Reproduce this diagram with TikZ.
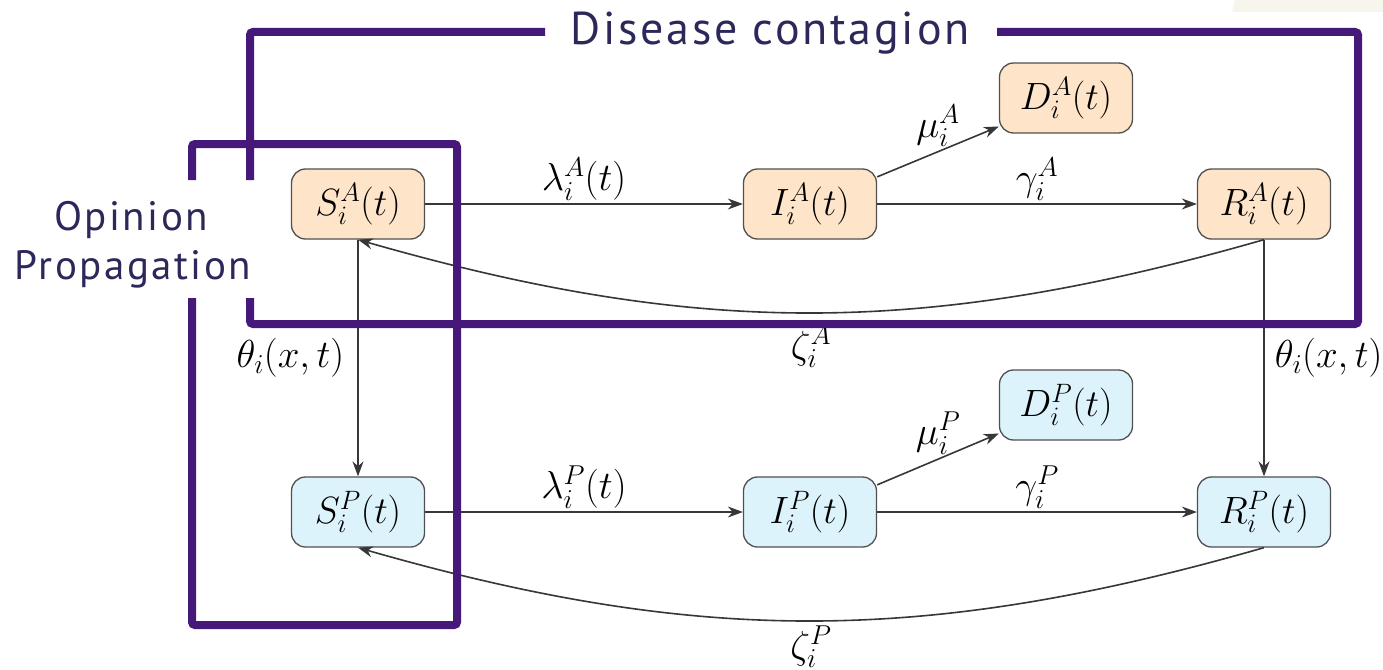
\RequirePackage{fix-cm}
\documentclass[tikz,border=0pt]{standalone}
\usepackage{fontspec}
\newfontfamily\framefont[LetterSpace=6]{PT Sans}
\usetikzlibrary{arrows.meta,calc}
\definecolor{frameviolet}{RGB}{70,24,122}
\definecolor{labelink}{RGB}{44,40,90}
\definecolor{nodeA}{RGB}{254,228,200}
\definecolor{nodeP}{RGB}{221,243,252}
\definecolor{edgegray}{RGB}{55,55,55}
\definecolor{boxgray}{RGB}{80,80,80}
\definecolor{cream}{RGB}{248,245,236}
\begin{document}
\begin{tikzpicture}[x=1pt,y=-1pt,
  state/.style={draw=boxgray, line width=1.3pt, rounded corners=14pt,
    minimum width=133pt, minimum height=70pt, inner sep=0pt,
    font=\fontsize{38}{44}\selectfont},
  stA/.style={state, fill=nodeA},
  stP/.style={state, fill=nodeP},
  flow/.style={draw=edgegray, line width=1.6pt, -{Stealth[length=15pt,width=11pt]}},
  lbl/.style={font=\fontsize{39}{46}\selectfont, inner sep=3pt},
  frame/.style={draw=frameviolet, line width=8pt, rounded corners=3pt},
  ftext/.style={text=labelink, inner sep=0pt, anchor=base}]
\useasboundingbox (0,0) rectangle (1383,669);
\fill[cream] (1235,0) -- (1383,0) -- (1383,12) -- (1232,12) -- cycle;

% states
\node[stA] (SA) at (358,204) {$S_i^A(t)$};
\node[stA] (IA) at (810,204) {$I_i^A(t)$};
\node[stA] (RA) at (1264,204) {$R_i^A(t)$};
\node[stA] (DA) at (1066,98) {$D_i^A(t)$};
\node[stP] (SP) at (358,512) {$S_i^P(t)$};
\node[stP] (IP) at (810,512) {$I_i^P(t)$};
\node[stP] (RP) at (1264,512) {$R_i^P(t)$};
\node[stP] (DP) at (1066,405) {$D_i^P(t)$};

% transitions A
\draw[flow] (SA.east) -- node[lbl, above] (lA) {$\lambda_i^A(t)$} (IA.west);
\draw[flow] (IA.east) -- node[lbl, above] (gA) {$\gamma_i^A$} (RA.west);
\draw[flow] (IA.22) -- node[lbl, above=1pt] (mA) {$\mu_i^A$} (DA.203);
\draw[flow] (RA.south) to[bend left=16] node[lbl, below=9pt] (zA) {$\zeta_i^A$} (SA.south);
% transitions P
\draw[flow] (SP.east) -- node[lbl, above] (lP) {$\lambda_i^P(t)$} (IP.west);
\draw[flow] (IP.east) -- node[lbl, above] (gP) {$\gamma_i^P$} (RP.west);
\draw[flow] (IP.22) -- node[lbl, above=1pt] (mP) {$\mu_i^P$} (DP.203);
\draw[flow] (RP.south) to[bend left=16] node[lbl, inner sep=0pt, below=4pt] (zP) {$\zeta_i^P$} (SP.south);
% opinion transitions
\draw[flow] (SA.south) -- node[lbl, left=10pt] (tL) {$\theta_i(x,t)$} (SP.north);
\draw[flow] (RA.south) -- node[lbl, right=7pt] (tR) {$\theta_i(x,t)$} (RP.north);

% frames
\draw[frame] (545,32) -- (250,32) -- (250,180);
\draw[frame] (250,298) -- (250,324) -- (1358,324) -- (1358,32) -- (997,32);
\draw[frame] (192,180) -- (192,144) -- (457,144) -- (457,625) -- (192,625) -- (192,298);

\node[ftext, font=\framefont\fontsize{46}{52}\selectfont] (dc) at (770,45) {Disease contagion};
\node[ftext, font=\framefont\fontsize{41}{48}\selectfont] (op1) at (131,230) {Opinion};
\node[ftext, font=\framefont\fontsize{41}{48}\selectfont] (op2) at (133,279) {Propagation};
\end{tikzpicture}
\end{document}
